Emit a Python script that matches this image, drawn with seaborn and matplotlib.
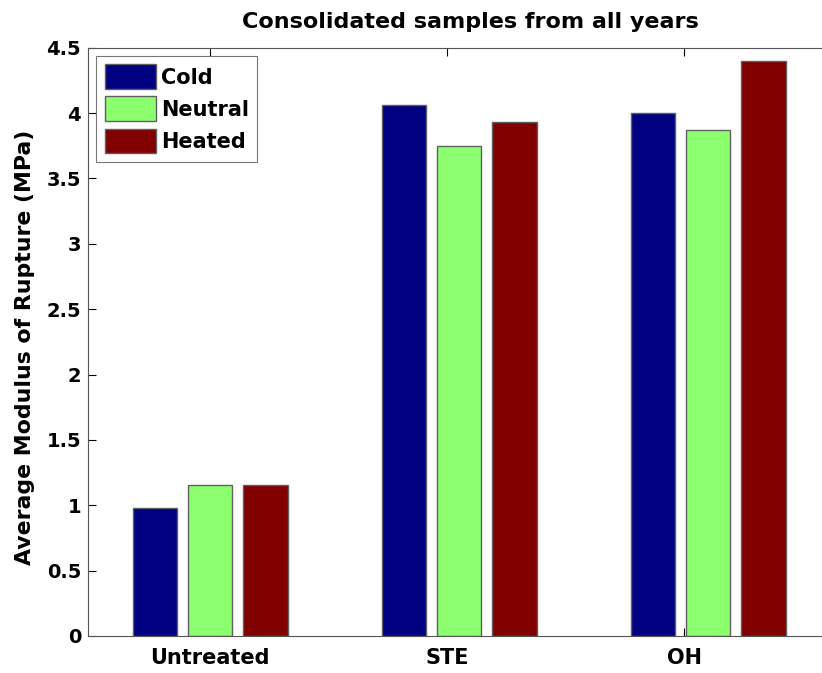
import pandas as pd
import matplotlib.pyplot as plt
import seaborn as sns

# valores
tratamentos = ['Untreated', 'STE', 'OH']
condicoes = ['Cold', 'Neutral', 'Heated']
cold = [0.98, 4.06, 4.00]
neutral = [1.155, 3.745, 3.87]
heated = [1.155, 3.93, 4.40]
cores = ['#000080', '#8CFF6E', '#800000']
# posicao dos rotulos do eixo x (no original nao ficam no centro dos grupos)
pos_rotulos = [0.0, 0.952, 1.904]

dados = pd.DataFrame({
    'tratamento': tratamentos * 3,
    'condicao': ['Cold'] * 3 + ['Neutral'] * 3 + ['Heated'] * 3,
    'mor': cold + neutral + heated,
})

sns.set_style('white')
plt.rcParams['font.family'] = ['DejaVu Sans']
plt.rcParams['font.weight'] = 'bold'
plt.rcParams['text.color'] = 'black'
plt.rcParams['axes.labelcolor'] = 'black'
plt.rcParams['xtick.color'] = 'black'
plt.rcParams['ytick.color'] = 'black'

# a figura original esta cortada a direita, o eixo continua alem da borda
fig = plt.figure(figsize=(8.22, 6.73), dpi=100)
ax = fig.add_axes([0.1071, 0.055, 0.9294, 0.874])

sns.barplot(data=dados, x='tratamento', y='mor', hue='condicao',
            order=tratamentos, hue_order=condicoes, palette=cores,
            saturation=1, width=0.663, gap=0.185,
            edgecolor='#606060', linewidth=1.0, errorbar=None, ax=ax)

ax.set_xlim(-0.49, 2.578)
ax.set_ylim(0, 4.5)
ax.set_xticks(pos_rotulos)
ax.set_xticklabels(tratamentos)
ax.set_yticks([0, 0.5, 1, 1.5, 2, 2.5, 3, 3.5, 4, 4.5])
ax.set_yticklabels(['0', '0.5', '1', '1.5', '2', '2.5', '3', '3.5', '4', '4.5'])
ax.tick_params(direction='in', length=6, width=0.8,
               top=True, right=True, left=True, bottom=True)
ax.tick_params(axis='y', labelsize=14, pad=5)
ax.tick_params(axis='x', labelsize=15, pad=9)
for s in ax.spines.values():
    s.set_color('#555555')
    s.set_linewidth(0.8)
ax.set_xlabel('')
ax.set_ylabel('Average Modulus of Rupture (MPa)', fontsize=15.8, fontweight='bold', labelpad=8)
ax.yaxis.label.set_y(0.49)
ax.set_title('Consolidated samples from all years', fontsize=16, fontweight='bold', pad=14)

leg = ax.legend(loc='upper left', fontsize=15, frameon=True, fancybox=False,
                handlelength=2.45, handleheight=1.45, handletextpad=0.25,
                borderaxespad=0.4, labelspacing=0.35, borderpad=0.4)
leg.get_frame().set_edgecolor('#555555')
leg.get_frame().set_linewidth(0.8)
for h in leg.legend_handles:
    h.set_edgecolor('#606060')

plt.savefig('out.png', dpi=100)
